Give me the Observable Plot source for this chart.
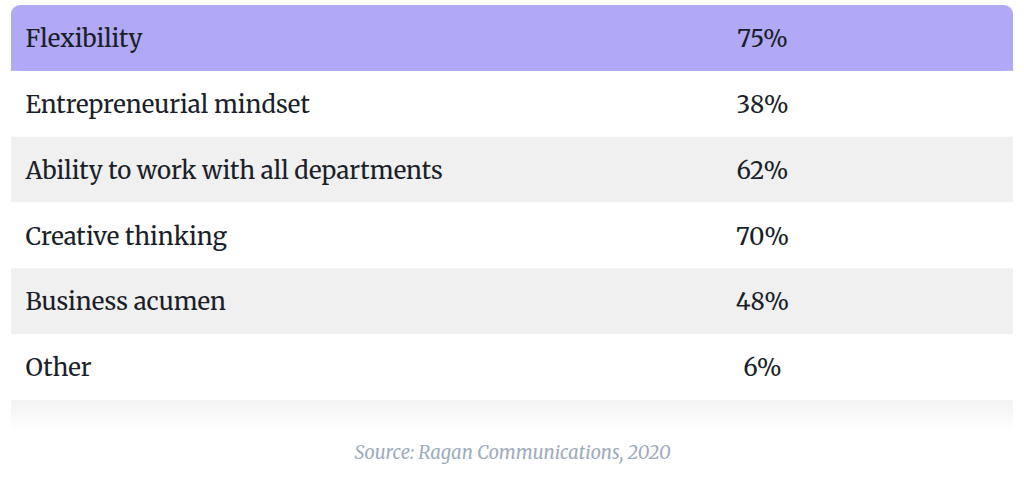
<!DOCTYPE html>
<html>
<head>
<meta charset="utf-8">
<script src="https://cdn.jsdelivr.net/npm/d3@7"></script>
<script src="https://cdn.jsdelivr.net/npm/@observablehq/plot@0.6"></script>
<style>
  html, body { margin: 0; padding: 0; background: #ffffff; }
  #chart svg { display: block; }
</style>
</head>
<body>
<div id="chart"></div>
<script>
const skills = [
  "Flexibility",
  "Entrepreneurial mindset",
  "Ability to work with all departments",
  "Creative thinking",
  "Business acumen",
  "Other"
];
const shares = [75, 38, 62, 70, 48, 6];
const source = "Source: Ragan Communications, 2020";

const rows = skills.map((skill, i) => ({skill, share: shares[i], i}));
const rowFill = d => d.i === 0 ? "#b1a9f5" : (d.i % 2 === 0 ? "#f0f0f0" : "#ffffff");
const serif = "Merriweather, 'DejaVu Serif', serif";

const chart = Plot.plot({
  width: 1024,
  height: 482,
  margin: 0,
  style: {background: "#ffffff", fontFamily: serif},
  x: {domain: [0, 1], range: [11, 1013], axis: null},
  y: {domain: skills, range: [5, 400], padding: 0, round: false, axis: null},
  marks: [
    // soft shadow under the table
    Plot.barX(rows.filter(d => d.i === rows.length - 1), {
      x1: 0, x2: 1, y: "skill",
      insetTop: 65.8, insetBottom: -32,
      fill: "url(#tblShadow)"
    }),
    // row backgrounds
    Plot.barX(rows.filter(d => d.i > 0), {
      x1: 0, x2: 1, y: "skill", fill: rowFill
    }),
    // header row: rounded top corners
    Plot.barX(rows.filter(d => d.i === 0), {
      x1: 0, x2: 1, y: "skill", fill: rowFill, rx: 9
    }),
    Plot.barX(rows.filter(d => d.i === 0), {
      x1: 0, x2: 1, y: "skill", fill: rowFill, insetTop: 30
    }),
    // labels
    Plot.text(rows, {
      x: 0.014, y: "skill", text: "skill",
      textAnchor: "start", fontSize: 24, fill: "#1b1f2a", dy: 1
    }),
    Plot.text(rows, {
      x: 0.7495, y: "skill", text: d => d.share + "%",
      textAnchor: "middle", fontSize: 24, fill: "#1b1f2a", dy: 1
    }),
    // source caption
    Plot.text([source], {
      frameAnchor: "bottom", dy: -24, text: d => d,
      fontSize: 18.5, fontStyle: "italic", fill: "#9eacbd"
    })
  ]
});

const svg = d3.select(chart);
const defs = svg.insert("defs", ":first-child");
const grad = defs.append("linearGradient")
  .attr("id", "tblShadow").attr("x1", 0).attr("y1", 0).attr("x2", 0).attr("y2", 1);
grad.append("stop").attr("offset", "0%").attr("stop-color", "#f3f3f3");
grad.append("stop").attr("offset", "100%").attr("stop-color", "#ffffff");

document.getElementById("chart").appendChild(chart);
</script>
</body>
</html>
